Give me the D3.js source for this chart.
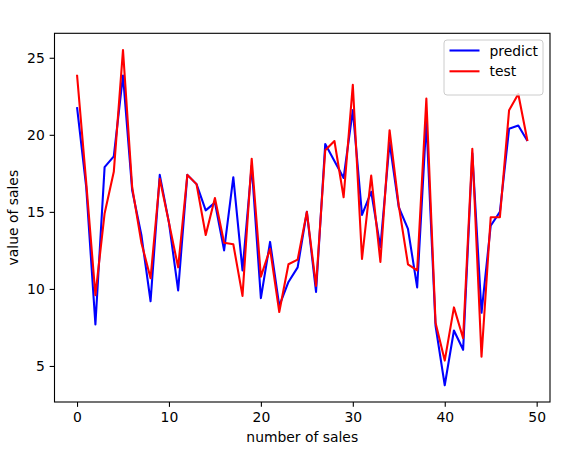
<!DOCTYPE html>
<html>
<head>
<meta charset="utf-8">
<script src="https://cdn.jsdelivr.net/npm/d3@7"></script>
<style>
  body { margin: 0; background: #fff; }
  text { font-family: "DejaVu Sans", sans-serif; }
</style>
</head>
<body>
<script>
var predict = [21.8, 16.6, 7.7, 17.9, 18.6, 23.85, 16.4, 13.5, 9.2, 17.4,
               14.3, 9.9, 17.4, 16.8, 15.1, 15.6, 12.5, 17.25, 11.2, 18.0,
               9.4, 13.05, 8.9, 10.45, 11.4, 15.0, 9.8, 19.4, 18.3, 17.2,
               21.6, 14.8, 16.3, 12.7, 19.5, 15.3, 13.9, 10.1, 20.9, 7.6,
               3.75, 7.3, 6.05, 18.8, 8.45, 14.1, 15.0, 20.4, 20.6, 19.6];
var test = [23.9, 16.9, 9.6, 14.9, 17.6, 25.5, 16.6, 13.0, 10.7, 17.15,
            14.3, 11.4, 17.4, 16.8, 13.5, 15.9, 13.0, 12.9, 9.55, 18.45,
            10.8, 12.6, 8.5, 11.6, 11.9, 15.0, 10.2, 19.0, 19.6, 15.95,
            23.25, 11.95, 17.35, 11.75, 20.3, 15.4, 11.6, 11.2, 22.35, 7.8,
            5.35, 8.8, 6.8, 19.1, 5.6, 14.65, 14.65, 21.6, 22.65, 19.6];
var xTicks = [0, 10, 20, 30, 40, 50];
var yTicks = [5, 10, 15, 20, 25];
var seriesNames = ["predict", "test"];
var seriesColors = ["blue", "red"];

var w = 587, h = 454;
var axL = 54.5, axR = 550, axT = 33.3, axB = 402;
var fs = 13.9;
var tick = 4.86;

var svg = d3.select("body").append("svg")
    .attr("width", w)
    .attr("height", h);

// matplotlib-like 5% margins
var n = predict.length;
var xPad = (n - 1) * 0.05;
var x = d3.scaleLinear().domain([-xPad, n - 1 + xPad]).range([axL, axR]);
var all = predict.concat(test);
var lo = d3.min(all), hi = d3.max(all);
var yPad = (hi - lo) * 0.05;
var y = d3.scaleLinear().domain([lo - yPad, hi + yPad]).range([axB, axT]);

var line = d3.line()
    .x(function(d, i) { return x(i); })
    .y(function(d) { return y(d); });

[predict, test].forEach(function(s, k) {
  svg.append("path")
     .datum(s)
     .attr("d", line)
     .attr("fill", "none")
     .attr("stroke", seriesColors[k])
     .attr("stroke-width", 2.08)
     .attr("stroke-linejoin", "round");
});

// axes
var xAxis = svg.append("g")
    .attr("transform", "translate(0," + axB + ")")
    .call(d3.axisBottom(x).tickValues(xTicks).tickSize(tick).tickPadding(tick));
var yAxis = svg.append("g")
    .attr("transform", "translate(" + axL + ",0)")
    .call(d3.axisLeft(y).tickValues(yTicks).tickSize(tick).tickPadding(tick));

[xAxis, yAxis].forEach(function(g) {
  g.select(".domain").remove();
  g.selectAll(".tick line").attr("stroke", "#000").attr("stroke-width", 1.1);
  g.selectAll(".tick text")
   .attr("fill", "#000")
   .style("font-size", fs + "px")
   .style("font-family", "DejaVu Sans");
});

// spines
svg.append("rect")
   .attr("x", axL).attr("y", axT)
   .attr("width", axR - axL).attr("height", axB - axT)
   .attr("fill", "none")
   .attr("stroke", "#000")
   .attr("stroke-width", 1.1);

// labels
svg.append("text")
   .attr("x", (axL + axR) / 2)
   .attr("y", 442)
   .attr("text-anchor", "middle")
   .style("font-size", fs + "px")
   .text("number of sales");

svg.append("text")
   .attr("transform", "translate(18," + ((axT + axB) / 2) + ") rotate(-90)")
   .attr("text-anchor", "middle")
   .style("font-size", fs + "px")
   .text("value of sales");

// legend
var lg = svg.append("g");
lg.append("rect")
  .attr("x", 444).attr("y", 40)
  .attr("width", 99).attr("height", 55)
  .attr("rx", 3)
  .attr("fill", "#fff").attr("fill-opacity", 0.8)
  .attr("stroke", "#cccccc").attr("stroke-width", 1);

seriesNames.forEach(function(name, k) {
  var yy = 50.5 + k * 20.8;
  lg.append("line")
    .attr("x1", 449.5).attr("x2", 479.5)
    .attr("y1", yy).attr("y2", yy)
    .attr("stroke", seriesColors[k])
    .attr("stroke-width", 2.08);
  lg.append("text")
    .attr("x", 489.5).attr("y", yy + 5)
    .style("font-size", fs + "px")
    .text(name);
});
</script>
</body>
</html>
